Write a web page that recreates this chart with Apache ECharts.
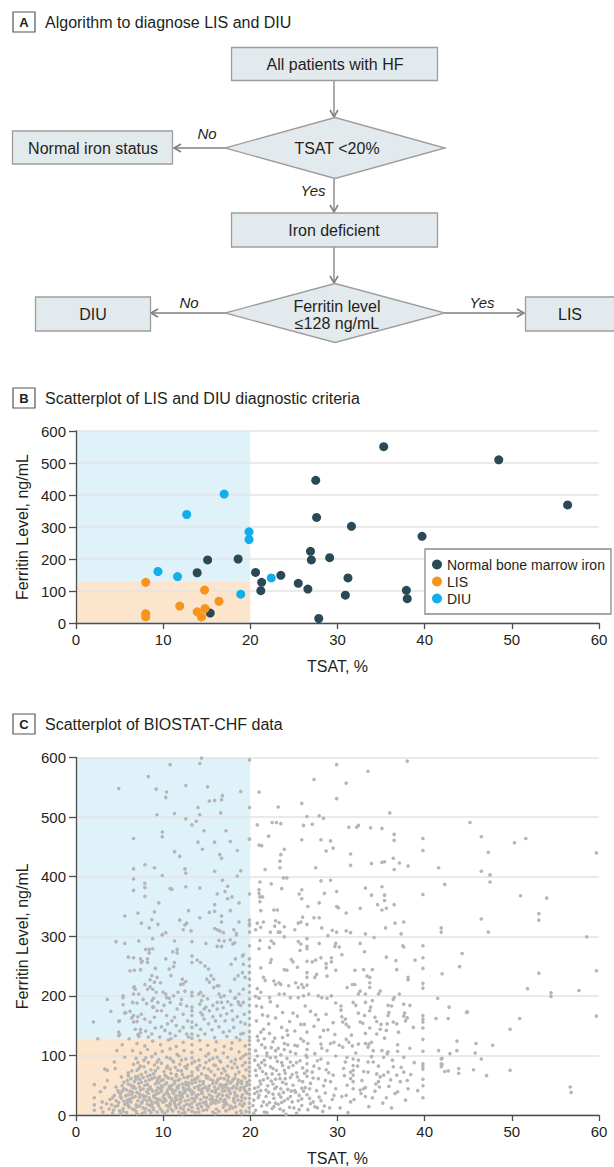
<!DOCTYPE html>
<html>
<head>
<meta charset="utf-8">
<script src="https://cdn.jsdelivr.net/npm/echarts@6/dist/echarts.min.js"></script>
<style>
html,body{margin:0;padding:0;background:#fff;}
#chart{width:614px;height:1167px;}
</style>
</head>
<body>
<div id="chart"></div>
<script>
// ---------------- DATA ----------------
const tsatCut = 20;      // TSAT threshold, %
const ferritinCut = 128; // ferritin threshold, ng/mL
const xMax = 60, yMax = 600;

const flowTexts = {
  start: 'All patients with HF',
  q1: 'TSAT <20%',
  normal: 'Normal iron status',
  deficient: 'Iron deficient',
  q2a: 'Ferritin level',
  q2b: '\u2264128 ng/mL',
  diu: 'DIU',
  lis: 'LIS'
};

// Panel B: [TSAT %, ferritin ng/mL]
const normalIron = [[35.3,551],[48.5,510],[56.4,369],[27.5,446],[27.6,330],[31.6,302],[39.7,271],[29.1,204],[26.9,224],[27.0,197],[18.6,200],[15.1,197],[13.9,157],[20.6,158],[21.3,127],[21.2,101],[23.5,149],[25.5,124],[26.6,106],[31.2,141],[30.9,87],[37.9,102],[38.0,76],[27.85,14],[15.4,31]];
const lisPts = [[8.0,127],[8.0,29],[8.0,19],[11.9,53],[13.9,35],[14.4,19],[14.75,103],[14.8,45],[16.4,68]];
const diuPts = [[9.4,161],[11.65,145],[12.7,339],[17.0,403],[19.85,285],[19.85,261],[18.9,90],[22.4,141]];

// Panel C (BIOSTAT-CHF), flat lists of TSAT, ferritin pairs
const cUpperLeft = [14.4,599,14.2,590,10.8,588,19.9,596,8.3,568,4.9,548,9.2,547,10.4,542,10.3,533,12.6,553,15.1,551,16.8,536,16.7,529,15.9,528,15.3,527,18.9,543,14.0,516,14.2,504,16.6,507,19.9,516,9.3,504,11.3,506,12.6,497,13.3,487,13.8,493,14.7,477,17.2,477,6.6,464,9.9,475,9.9,467,14.0,458,14.5,446,15.9,458,17.7,459,18.5,444,19.9,463,11.3,442,11.9,434,16.5,437,16.7,431,6.6,413,7.9,420,9.0,415,6.6,396,9.9,402,12.5,413,12.6,406,15.9,409,18.9,410,18.5,401,16.8,394,17.4,384,17.1,375,6.6,377,7.9,389,7.9,382,7.9,367,10.8,380,11.0,379,12.6,383,14.2,381,16.2,371,17.9,366,17.4,363,19.9,371,9.5,356,5.6,334,7.1,339,7.5,322,8.4,314,8.7,328,9.0,341,9.4,320,9.9,302,11.9,327,12.5,319,12.7,322,12.9,343,12.3,311,13.2,309,14.2,331,15.3,340,15.9,342,15.9,353,16.7,334,16.7,324,15.9,313,16.2,311,16.5,309,16.9,306,17.7,343,18.7,356,18.7,324,19.9,327,19.9,321,19.9,318,19.9,307,18.1,311,18.4,305,18.4,302,4.6,291,5.6,288,7.2,292,8.8,296,8.4,278,8.8,279,9.9,303,10.3,306,11.3,292,11.6,278,13.3,291,14.9,288,16.4,293,17.0,292,16.7,283,16.2,283,17.7,294,18.2,289,18.0,287];

const cMidLeft = [6.0,265,6.6,264,6.7,243,7.4,262,7.5,256,8.0,278,8.4,272,8.2,262,8.2,256,9.1,246,8.7,234,8.5,227,9.0,223,8.8,211,9.2,206,8.9,196,9.4,189,8.8,181,9.3,175,10.3,262,10.7,245,11.1,274,11.6,272,11.3,256,11.2,249,10.9,234,10.3,203,10.7,196,10.1,184,11.2,200,11.7,206,12.0,186,11.6,178,12.2,228,12.3,220,12.6,224,13.3,267,13.3,256,13.3,206,13.3,200,13.3,181,13.9,260,14.3,256,14.8,250,15.2,245,15.5,234,15.0,228,15.3,223,15.8,228,16.2,217,16.4,217,14.3,206,14.6,200,15.1,195,14.2,186,14.7,178,15.3,175,15.7,184,16.2,189,16.6,198,17.0,200,17.4,190,17.8,185,18.2,196,18.6,190,18.9,184,18.7,203,18.2,228,18.6,234,19.1,239,17.8,253,18.3,262,19.1,267,19.9,284,19.9,262,19.9,250,19.9,239,19.9,228,19.9,217,19.9,206,19.9,195,19.9,184,19.9,173,19.9,162,19.9,151,19.9,140,19.9,131,3.6,194,4.0,174,2.0,156,2.5,128,5.0,158,5.0,135,5.4,200,5.4,185,5.7,172,6.7,215,6.8,211,6.2,174,6.6,167,7.1,165,7.0,157,7.0,188,7.2,203,7.1,135,7.4,138,6.2,242,6.6,214,6.6,203,6.5,189,6.4,163,6.6,156,6.8,144,7.2,132,7.6,258,7.4,244,7.9,219,8.2,211,8.5,215,7.7,194,8.1,187,8.7,192,8.9,181,7.5,169,7.9,161,8.5,156,9.0,164,7.4,144,8.0,141,8.7,136,9.1,146,9.3,231,9.7,222,10.0,206,10.4,197,10.8,189,9.8,175,10.4,167,11.0,158,11.5,150,10.2,142,10.8,137,11.4,133,12.0,219,12.5,208,12.1,194,12.7,183,12.3,169,12.8,158,12.3,147,12.7,136,13.3,175,13.3,167,13.3,156,13.3,147,13.3,136,13.3,129,14.1,203,14.4,192,14.9,181,14.3,172,14.7,161,15.2,153,14.3,144,14.8,136,15.8,214,16.4,203,16.7,189,16.2,178,16.6,167,17.1,158,16.4,148,16.9,139,17.3,132,17.7,208,18.3,197,18.7,186,17.9,175,18.5,165,18.9,156,18.1,147,18.9,136,19.2,269,19.2,253,19.4,231,19.2,211,19.2,189,19.3,169,19.4,153,19.2,137,4.9,157,4.9,139,4.9,133,5.6,171,5.4,197,9.6,131,10.5,153,11.9,141,13.8,151,14.0,133,15.6,143,15.9,130,16.0,158,17.6,141,18.4,130,18.0,160,17.3,170,15.7,165,11.3,164,9.8,148,8.3,131,12.9,131,14.5,168,16.9,180,10.9,128];

const cLowLeft = [3.1,5,4.2,3,5.0,7,5.8,4,6.9,6,7.6,3,8.4,8,9.3,5,10.2,3,11.1,7,12.5,4,13.3,6,14.6,8,15.7,5,17.2,7,18.4,4,19.5,6,
2.9,12,3.8,10,4.5,14,5.4,11,6.1,13,6.7,9,7.3,15,8.0,11,8.8,13,9.7,10,10.6,14,11.5,12,12.3,9,13.3,13,14.0,11,15.2,14,16.1,10,16.9,13,18.0,12,19.1,15,
3.5,19,4.1,17,4.9,21,5.6,18,6.3,22,6.9,17,7.5,20,8.2,18,8.7,22,9.4,19,10.0,21,10.8,17,11.3,20,12.0,22,12.7,18,13.3,20,13.9,17,14.6,21,15.5,19,16.4,22,17.3,18,18.2,21,19.3,19,
3.9,26,4.6,24,5.2,28,5.9,25,6.5,29,7.1,24,7.8,27,8.5,25,9.0,29,9.6,26,10.3,24,10.9,28,11.6,26,12.2,30,12.9,25,13.3,28,14.3,26,15.0,29,15.8,24,16.6,27,17.5,30,18.6,25,19.4,28,
4.4,33,5.1,36,5.7,32,6.4,35,7.0,38,7.7,33,8.3,36,8.9,32,9.5,37,10.1,34,10.7,31,11.2,36,11.9,33,12.5,38,13.3,35,13.8,32,14.5,37,15.3,34,16.0,38,16.8,33,17.7,36,18.5,32,19.6,37,
4.8,41,5.5,44,6.2,40,6.8,45,7.4,42,8.1,39,8.6,44,9.2,41,9.9,46,10.5,42,11.1,39,11.7,45,12.4,41,13.0,44,13.3,40,14.1,43,14.8,46,15.6,40,16.3,44,17.1,41,17.9,45,18.8,42,19.5,39,
5.3,49,6.0,52,6.6,48,7.2,53,7.9,50,8.5,47,9.1,52,9.8,49,10.4,54,11.0,50,11.6,47,12.2,52,12.9,49,13.3,53,14.2,50,14.9,47,15.7,53,16.5,49,17.3,52,18.1,48,19.0,53,19.6,50,
5.9,58,6.7,56,7.3,60,8.0,57,8.7,61,9.3,56,10.0,59,10.6,62,11.3,57,11.9,60,12.6,55,13.3,58,13.8,61,14.6,56,15.4,60,16.2,57,17.0,61,17.8,55,18.6,59,19.4,62,
6.0,66,6.8,64,7.5,68,8.2,65,8.9,69,9.6,64,10.2,67,10.9,70,11.5,65,12.2,68,12.8,63,13.3,66,14.4,69,15.1,64,15.9,67,16.7,70,17.5,64,18.3,68,19.2,65,
6.4,74,7.2,78,8.0,72,8.6,76,9.4,79,10.1,73,10.8,77,11.4,80,12.1,74,12.7,78,13.3,72,14.0,76,14.7,79,15.5,73,16.3,77,17.1,74,17.9,79,18.7,72,19.5,76,
6.6,85,7.4,82,8.3,88,9.0,84,9.8,87,10.5,82,11.2,89,11.9,85,12.5,81,13.3,87,14.2,83,14.9,88,15.8,84,16.6,89,17.4,82,18.2,86,19.1,83,
6.9,95,7.8,92,8.7,98,9.5,93,10.4,97,11.1,91,11.8,99,12.6,94,13.3,96,14.1,92,14.9,99,15.7,95,16.5,91,17.4,97,18.3,93,19.2,99,
6.5,108,7.4,104,8.2,110,9.1,103,9.9,107,10.8,111,11.6,102,12.4,108,13.3,105,14.3,110,15.2,103,16.0,109,16.9,104,17.8,111,18.7,106,19.5,102,
7.0,120,7.9,116,8.8,124,9.7,118,10.6,126,11.5,115,12.3,122,13.3,118,14.2,125,15.1,117,16.1,123,17.0,115,17.9,121,18.8,126,19.4,116,
5.4,6,6.5,10,7.9,5,8.9,9,9.9,6,10.9,10,11.8,5,12.9,9,14.1,5,15.0,9,16.4,6,17.6,10,18.9,7,
4.8,16,5.9,20,7.0,14,8.5,16,9.1,21,10.4,16,11.8,18,12.4,15,14.2,19,15.0,16,16.0,20,17.7,15,18.8,18,
5.5,23,6.2,27,7.3,30,8.1,24,9.3,27,10.0,30,11.3,23,12.0,27,13.6,23,14.7,30,15.4,26,16.9,23,18.1,28,19.0,24,
4.9,38,6.0,34,7.3,35,8.0,31,9.2,35,10.4,38,11.5,32,12.2,35,13.5,37,14.0,34,15.6,31,16.4,35,17.3,33,18.2,38,19.1,34,
5.8,42,6.5,46,7.7,44,8.8,40,9.6,44,10.8,45,11.4,41,12.7,43,13.6,46,14.4,40,15.2,44,16.0,42,16.8,46,17.6,40,18.4,45,
6.3,50,7.5,55,8.2,51,9.5,54,10.7,48,11.3,53,12.6,51,13.7,55,14.6,52,15.3,49,16.1,54,17.0,50,17.7,54,18.5,51,19.3,47,
6.9,60,7.7,63,8.4,59,9.0,63,9.8,58,11.0,61,11.7,58,12.4,63,13.6,60,14.2,57,15.0,62,15.7,58,16.6,62,17.4,58,18.2,62,19.0,57,
9.0,33,9.8,40,10.2,27,10.6,35,11.0,43,11.4,29,11.9,38,12.3,46,12.8,32,13.1,41,13.5,27,14.0,48,14.4,36,15.1,41,15.6,28,8.7,18,9.4,24,10.8,20,12.0,12,13.0,17,14.4,14,15.6,21,16.2,31,17.1,26,16.8,40,17.2,47,18.3,33,18.6,55,19.3,43,
19.9,5,19.9,12,19.9,20,19.9,28,19.9,35,19.9,43,19.9,51,19.9,58,19.9,66,19.9,73,19.9,80,19.9,88,19.9,95,19.9,103,19.9,110,19.9,118,19.9,125,
2.1,29,2.1,17,2.1,8,2.1,51,2.8,39,3.3,77,3.6,75,4.5,78,4.7,108,4.4,89,3.3,46,3.6,58,3.0,22,5.2,64,5.6,97,5.3,118,6.1,128,
4.3,8,5.1,2,6.0,16,7.0,2,7.7,12,8.6,4,9.5,15,10.5,7,11.4,16,12.2,2,13.7,4,14.9,18,16.0,2,17.0,17,18.3,14,19.0,2,
4.2,29,5.1,31,6.1,24,6.8,31,7.6,22,8.4,29,9.9,23,11.0,25,12.5,24,13.8,29,14.9,22,16.1,25,17.2,21,18.1,24,19.0,30,
4.6,47,5.3,40,6.5,38,7.3,47,8.3,43,9.4,46,10.2,51,11.8,50,12.9,54,14.5,44,15.9,47,16.6,51,17.5,44,18.9,46,
5.5,55,6.3,61,7.1,65,8.5,67,9.4,61,10.4,64,11.5,68,12.9,65,14.0,64,14.9,66,16.3,60,17.3,67,18.0,59,19.6,55,
6.0,71,7.0,75,7.8,81,9.1,74,10.4,79,11.7,75,12.8,84,13.9,79,15.2,77,16.0,83,16.9,78,18.5,80,19.4,88,
7.1,88,8.0,96,9.3,89,10.8,95,12.1,92,13.6,90,15.3,92,16.2,97,17.8,90,18.9,95];

const cMid = [20.6,8,21.3,15,21.9,4,22.5,11,23.2,18,23.8,7,24.5,13,25.3,3,25.9,16,26.6,9,27.4,14,28.3,6,29.1,12,22.9,20,24.1,1,26.9,19,
20.4,25,21.0,33,21.5,22,22.1,38,22.7,28,23.3,35,23.9,24,24.6,31,25.2,38,25.9,27,26.5,34,27.2,22,27.9,30,28.6,37,29.4,26,20.8,39,23.6,21,26.1,40,28.1,24,
20.5,45,21.2,52,21.8,42,22.4,57,23.0,47,23.7,55,24.3,43,24.9,50,25.6,58,26.3,46,26.9,53,27.6,41,28.4,49,29.2,56,29.8,44,21.5,59,22.9,60,25.1,41,
20.7,66,21.4,73,22.0,62,22.6,78,23.3,68,23.9,75,24.6,63,25.3,71,26.0,79,26.5,65,27.1,72,27.8,61,28.7,76,29.5,67,21.1,79,24.0,61,26.5,74,
20.9,84,21.6,92,22.3,81,22.9,97,23.6,88,24.2,95,24.9,83,25.7,91,26.5,86,26.5,97,27.3,82,28.1,94,28.9,87,29.8,99,21.9,99,
20.6,108,21.3,118,21.9,104,22.6,123,23.2,112,23.9,120,24.6,106,25.4,116,26.1,124,26.5,110,27.4,103,28.1,119,28.8,108,29.6,122,20.9,125,23.5,101,
20.8,132,21.5,144,22.2,137,22.8,129,23.6,147,24.3,134,25.1,141,25.8,128,26.5,139,27.3,149,28.0,131,28.9,143,29.7,135,
20.7,158,21.4,168,22.1,153,22.9,163,23.7,172,24.5,157,25.4,166,26.2,152,26.9,174,27.8,160,28.7,169,29.5,155,
20.7,183,21.0,196,21.3,181,22.2,197,22.3,190,23.3,203,23.9,203,24.6,197,25.5,197,26.1,200,26.7,203,27.8,200,28.2,197,28.8,196,29.3,200,29.8,188,
20.3,16,20.9,29,21.6,5,22.2,21,22.8,44,23.5,30,24.1,52,24.8,22,25.4,64,25.9,45,21.7,84,22.5,69,23.1,90,23.8,38,24.4,80,25.0,12,25.6,33,21.1,57,22.0,49,24.6,89,20.6,75,23.4,61,25.2,103,22.4,113,21.6,128,
20.4,3,20.9,47,21.3,88,21.8,31,22.3,96,22.7,14,23.0,75,23.5,44,23.9,110,24.3,27,24.8,68,25.1,117,25.6,9,26.0,56,26.4,100,26.8,28,27.2,62,27.7,91,28.2,112,28.5,15,29.0,71,29.6,33,20.5,92,21.7,113,22.6,52,23.7,130,24.2,142,24.9,171,25.8,152,22.0,166,21.2,139,23.1,183,26.3,183,27.5,168,28.4,142,29.2,120,
20.5,36,21.2,41,21.9,17,22.6,35,23.4,10,24.0,70,24.7,40,25.5,24,26.2,70,26.8,44,27.7,12,20.8,99,21.8,69,22.9,108,23.7,83,24.3,118,25.3,88,26.6,120,27.9,78,28.6,58];

const cMidUpper = [21.0,279,22.2,281,25.7,276,30.2,282,30.5,269,33.1,274,37.6,282,39.8,284,39.8,264,39.8,246,39.8,221,39.8,213,22.4,261,22.3,256,21.2,247,24.7,261,24.9,257,26.5,258,27.1,257,27.5,260,28.1,264,28.7,254,28.7,247,23.9,244,24.2,243,25.4,248,26.5,239,26.5,231,27.4,231,27.6,236,28.8,233,29.3,264,29.3,257,29.8,243,32.0,243,33.0,244,33.4,233,33.7,231,33.7,222,33.7,214,34.0,244,35.6,265,36.7,259,38.1,231,38.1,227,36.8,244,38.9,260,21.5,231,21.7,226,22.7,225,23.3,222,20.8,212,21.2,206,20.6,199,21.0,196,22.9,219,23.5,219,24.4,217,25.2,222,25.5,214,25.9,219,26.1,214,26.5,218,31.1,214,31.7,219,32.0,219,32.6,208,32.4,203,33.2,203,34.7,203,34.9,208,36.4,194,37.1,203,38.3,184,
29.9,588,38.0,594,27.3,563,31.0,557,33.5,577,21.0,542,23.2,517,25.9,523,29.9,531,36.0,507,20.8,487,22.5,491,23.0,491,23.5,489,26.1,486,26.5,501,27.1,488,27.9,502,28.4,498,31.3,483,32.2,483,32.4,486,33.8,482,35.1,481,36.5,471,36.5,461,39.8,464,39.8,444,21.0,453,21.3,452,22.1,468,23.9,446,23.5,437,23.4,426,23.4,415,21.7,412,25.9,462,28.1,462,29.2,460,28.7,443,29.5,448,31.5,438,31.5,419,27.5,415,33.9,422,35.1,424,35.4,425,36.4,431,36.5,412,37.1,423,38.1,418,39.8,370,23.8,398,24.2,398,21.1,391,22.4,388,23.6,380,21.0,378,21.0,372,21.1,366,21.4,366,21.1,358,21.2,343,28.1,393,29.2,394,25.6,371,25.9,378,25.9,363,26.6,350,28.5,372,29.9,375,27.9,356,29.9,350,30.1,348,31.0,339,32.6,347,33.2,381,33.9,369,35.1,383,35.4,369,35.4,360,34.6,353,35.1,344,35.6,347,36.5,353,22.7,344,23.1,344,20.8,322,21.5,324,20.6,311,21.2,315,22.9,326,23.3,323,22.8,317,23.9,316,23.4,307,23.2,307,22.3,307,22.4,292,21.1,293,22.7,288,23.9,299,25.1,311,25.5,322,25.8,324,26.0,332,26.5,320,26.5,296,26.5,279,27.3,331,27.9,331,28.2,314,28.9,301,29.4,310,29.9,307,31.0,309,27.9,288,29.8,288,29.7,283,31.5,306,32.6,288,33.2,304,34.2,298,35.5,314,36.6,322,37.6,324,37.3,304,25.5,291,25.8,287,26.5,283,37.5,284];

const cRightLow = [30.4,176,30.9,161,31.3,148,31.8,189,32.4,171,32.9,154,33.2,137,33.8,181,34.3,164,34.9,144,35.4,129,35.9,172,36.4,156,37.0,139,37.6,186,38.0,163,38.3,112,38.7,147,39.8,167,39.8,161,39.8,156,39.8,146,39.8,127,39.8,107,36.9,118,35.1,108,33.6,119,32.1,104,31.0,127,30.6,114,34.0,192,36.2,183,31.6,134,37.7,171,35.0,152,
35.8,184,36.5,197,37.6,166,37.8,158,36.8,153,35.6,142,34.5,136,35.7,153,35.8,167,34.5,157,33.7,146,33.9,122,33.5,114,34.1,108,33.2,120,32.4,119,31.7,116,31.3,122,30.2,117,33.1,167,32.6,156,33.7,175,33.2,189,32.1,184,30.4,183,30.5,165,30.6,156,31.0,152,
39.8,86,39.8,82,39.8,77,39.8,60,39.8,49,39.8,29,36.4,81,36.8,67,37.2,56,35.8,72,35.3,67,34.9,64,34.7,56,34.8,47,34.3,40,34.0,29,35.6,29,36.2,12,36.6,36,36.9,39,37.6,72,38.0,58,38.4,68,31.8,94,31.8,83,31.8,75,31.8,67,31.8,56,31.8,44,33.0,44,33.2,46,32.6,42,32.7,36,33.2,31,31.1,50,31.5,61,31.5,72,30.7,78,30.5,31,31.0,33,31.5,22,30.9,89,31.1,97,32.4,92,33.5,89,34.1,89,34.5,69,33.5,72,33.0,73,35.3,97,35.7,103,35.8,106,36.9,107,37.6,97,
30.3,12,31.9,26,32.8,58,33.6,14,34.7,82,35.9,48,36.3,92,37.8,25,38.8,88,39.2,41,30.8,66,32.3,82,33.9,98,35.2,20,37.3,80,38.1,44,31.2,4,34.4,52,36.1,59];

const cFarRight = [45.2,491,46.5,467,50.3,457,51.6,464,47.3,441,59.7,440,46.5,409,47.5,403,47.5,391,42.3,387,51.0,368,54.0,364,53.1,338,53.1,327,46.5,329,47.3,307,41.9,314,41.9,307,58.6,299,44.3,271,44.0,249,42.0,237,53.1,238,59.7,242,51.8,212,54.5,205,54.5,199,57.7,209,42.8,181,42.7,162,44.9,173,50.9,162,49.8,144,59.7,166,43.7,124,43.7,108,45.9,120,47.8,117,42.9,103,45.8,104,46.5,94,42.0,95,42.0,85,42.3,73,42.7,74,43.9,78,43.9,70,45.6,76,47.1,66,49.8,75,56.7,47,56.8,38,41.6,415,41.3,162,41.5,196,44.8,172,41.9,94,41.9,86,41.9,81,41.6,108];

// ---------------- BUILD ----------------
function pairs(flat){const out=[];for(let i=0;i+1<flat.length;i+=2){out.push([flat[i],flat[i+1]]);}return out;}
const biostat = [].concat(pairs(cUpperLeft),pairs(cMidLeft),pairs(cLowLeft),pairs(cMid),pairs(cMidUpper),pairs(cRightLow),pairs(cFarRight));

const FONT = "'Liberation Sans', Arial, Helvetica, sans-serif";
const TXT = '#231f20';
const AX = '#4d4d4d';
const COL_NORMAL = '#284955';
const COL_LIS = '#f7941d';
const COL_DIU = '#10aeea';
const SHADE_BLUE = '#dff1f9';
const SHADE_ORANGE = '#fde5cd';

function xAxisFor(gi){
  return {type:'value',gridIndex:gi,min:0,max:xMax,interval:10,z:2,
    name:'TSAT, %',nameLocation:'middle',nameGap:35,
    nameTextStyle:{fontSize:16,color:TXT,fontFamily:FONT},
    axisLine:{show:true,onZero:false,lineStyle:{color:AX,width:1.3}},
    axisTick:{show:true,length:6,lineStyle:{color:AX,width:1.3}},
    axisLabel:{fontSize:15,color:TXT,margin:9,fontFamily:FONT},
    splitLine:{show:false}};
}
function yAxisFor(gi){
  return {type:'value',gridIndex:gi,min:0,max:yMax,interval:100,z:2,
    name:'Ferritin Level, ng/mL',nameLocation:'middle',nameGap:45,nameRotate:90,
    nameTextStyle:{fontSize:16,color:TXT,fontFamily:FONT},
    axisLine:{show:true,onZero:false,lineStyle:{color:AX,width:1.3}},
    axisTick:{show:true,length:7,lineStyle:{color:AX,width:1.3}},
    axisLabel:{fontSize:15,color:TXT,margin:10,fontFamily:FONT},
    splitLine:{show:true,lineStyle:{color:'#e3e3e3',width:1.6}}};
}
function shadeSeries(gi){
  return {type:'scatter',name:'shade'+gi,xAxisIndex:gi,yAxisIndex:gi,data:[],silent:true,z:1,
    markArea:{silent:true,label:{show:false},
      data:[
        [{xAxis:0,yAxis:ferritinCut,itemStyle:{color:SHADE_BLUE}},{xAxis:tsatCut,yAxis:yMax}],
        [{xAxis:0,yAxis:0,itemStyle:{color:SHADE_ORANGE}},{xAxis:tsatCut,yAxis:ferritinCut}]
      ]}};
}

// flowchart drawing helpers (layout only)
const BOX_FILL = '#e3eaed', BOX_STROKE = '#9d9d9d', ARROW = '#7f7f7f';
const g = [];
function txt(x,y,t,opt){opt=opt||{};g.push({type:'text',x:x,y:y,silent:true,z:10,style:{text:t,fill:TXT,fontSize:opt.size||16,fontFamily:FONT,fontStyle:opt.italic?'italic':'normal',fontWeight:opt.bold?'bold':'normal',align:opt.align||'center',verticalAlign:'middle'}});}
function box(x,y,w,h){g.push({type:'rect',silent:true,z:5,shape:{x:x,y:y,width:w,height:h},style:{fill:BOX_FILL,stroke:BOX_STROKE,lineWidth:1.3}});}
function diamond(cx,cy,hw,hh){g.push({type:'polygon',silent:true,z:5,shape:{points:[[cx,cy-hh],[cx+hw,cy],[cx,cy+hh],[cx-hw,cy]]},style:{fill:BOX_FILL,stroke:BOX_STROKE,lineWidth:1.3}});}
function arrow(x1,y1,x2,y2){
  g.push({type:'line',silent:true,z:5,shape:{x1:x1,y1:y1,x2:x2,y2:y2},style:{stroke:ARROW,lineWidth:1.3}});
  const dx=x2-x1, dy=y2-y1, L=Math.sqrt(dx*dx+dy*dy), ux=dx/L, uy=dy/L, px=-uy, py=ux;
  const back=7, half=4;
  g.push({type:'polyline',silent:true,z:5,shape:{points:[[x2-ux*back+px*half,y2-uy*back+py*half],[x2,y2],[x2-ux*back-px*half,y2-uy*back-py*half]]},style:{stroke:ARROW,lineWidth:1.6,fill:null}});
}
function badge(y,letter,title){
  g.push({type:'rect',silent:true,z:5,shape:{x:13,y:y,width:22,height:20},style:{fill:'#fff',stroke:'#555',lineWidth:1.2}});
  txt(24,y+10.5,letter,{size:13,bold:true});
  txt(45,y+10,title,{size:16,align:'left'});
}

badge(12,'A','Algorithm to diagnose LIS and DIU');
badge(388,'B','Scatterplot of LIS and DIU diagnostic criteria');
badge(714,'C','Scatterplot of BIOSTAT-CHF data');

// flowchart
arrow(334,81,334,117);
arrow(225,148,174,148);
arrow(334,179,334,212);
arrow(334,247,334,283);
arrow(225,313,151,313);
arrow(445,313,524,313);
box(231.5,47.5,206,33);
diamond(335,148,110,30.5);
box(12.5,131,160,33);
box(231.5,213,206,34);
diamond(335,313,110,29.5);
box(35.5,297,115,34);
box(525.5,297,100,34);
txt(335,64,flowTexts.start);
txt(337,148,flowTexts.q1);
txt(93,148,flowTexts.normal);
txt(334,230,flowTexts.deficient);
txt(337,306,flowTexts.q2a);
txt(337,323,flowTexts.q2b);
txt(93,314,flowTexts.diu);
txt(570,314,flowTexts.lis);
txt(207,133,'No',{italic:true,size:15});
txt(313,190,'Yes',{italic:true,size:15});
txt(189,302,'No',{italic:true,size:15});
txt(482,302,'Yes',{italic:true,size:15});

const option = {
  animation:false,
  backgroundColor:'#ffffff',
  textStyle:{fontFamily:FONT},
  grid:[
    {left:76,top:431,width:523,height:192,containLabel:false},
    {left:76,top:757.5,width:523,height:359,containLabel:false}
  ],
  xAxis:[xAxisFor(0),xAxisFor(1)],
  yAxis:[yAxisFor(0),yAxisFor(1)],
  legend:{data:['Normal bone marrow iron','LIS','DIU'],orient:'vertical',left:425,top:549,
    icon:'circle',itemWidth:10,itemHeight:10,itemGap:0,padding:[7,6,7,7],
    borderColor:'#8a8a8a',borderWidth:1.3,backgroundColor:'#fff',selectedMode:false,
    textStyle:{fontSize:14,color:TXT,fontFamily:FONT,lineHeight:17}},
  graphic:g,
  series:[
    shadeSeries(0),
    shadeSeries(1),
    {type:'scatter',name:'Normal bone marrow iron',xAxisIndex:0,yAxisIndex:0,z:3,symbolSize:9,data:normalIron,itemStyle:{color:COL_NORMAL,opacity:1},silent:true},
    {type:'scatter',name:'LIS',xAxisIndex:0,yAxisIndex:0,z:3,symbolSize:9,data:lisPts,itemStyle:{color:COL_LIS,opacity:1},silent:true},
    {type:'scatter',name:'DIU',xAxisIndex:0,yAxisIndex:0,z:3,symbolSize:9,data:diuPts,itemStyle:{color:COL_DIU,opacity:1},silent:true},
    {type:'scatter',name:'BIOSTAT-CHF',xAxisIndex:1,yAxisIndex:1,z:3,symbolSize:3.6,data:biostat,itemStyle:{color:'#b5b5b5',opacity:1},silent:true,large:false}
  ]
};
const chart = echarts.init(document.getElementById('chart'),null,{renderer:'svg',width:614,height:1167});
chart.setOption(option);
</script>
</body>
</html>
